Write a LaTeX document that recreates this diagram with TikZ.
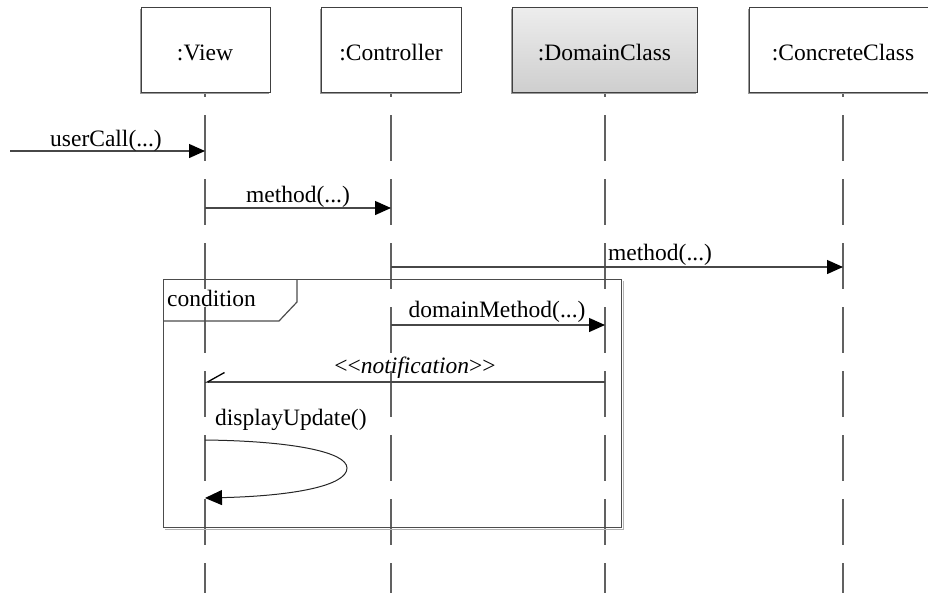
\documentclass[tikz,border=0pt]{standalone}
\usepackage{fontspec}
\setmainfont{Liberation Serif}
\usetikzlibrary{arrows.meta}
\begin{document}
\begin{tikzpicture}[x=1pt,y=-1pt,
  lifeline/.style={draw=black!62, line width=1.2pt, dash pattern=on 46pt off 18pt},
  objbox/.style={draw=black!75, line width=1pt, fill=white, inner sep=0pt,
                 minimum height=85pt},
  boxshadow/.style={fill=black!40},
  msg/.style={draw=black!72, line width=1.3pt,
              -{Triangle[length=16pt,width=14pt,color=black,fill=black]}},
  asyncmsg/.style={draw=black!72, line width=1.3pt,
                   -{Straight Barb[harpoon,swap,length=17pt,width=19pt,color=black]}},
  selfmsg/.style={draw=black!85, line width=1pt,
                  -{Triangle[length=17pt,width=15pt,color=black,fill=black]}},
  lbl/.style={inner sep=0pt, anchor=base, font=\fontsize{23.5}{28}\selectfont},
  fragment/.style={draw=black!70, line width=1.2pt},
]
\useasboundingbox (0,0) rectangle (928,592);

% lifelines (drawn first so the object boxes cover their tops)
\coordinate (viewtop) at (205,51);   \coordinate (viewbot) at (205,600);
\coordinate (ctrltop) at (391,51);   \coordinate (ctrlbot) at (391,600);
\coordinate (domtop)  at (605,51);   \coordinate (dombot)  at (605,600);
\coordinate (conctop) at (843,51);   \coordinate (concbot) at (843,600);
\draw[lifeline] (viewtop) -- (viewbot);
\draw[lifeline] (ctrltop) -- (ctrlbot);
\draw[lifeline] (domtop) -- (dombot);
\draw[lifeline] (conctop) -- (concbot);

% object boxes
\fill[boxshadow] (139.5,8.5) rectangle (268.5,93.5);
\node[objbox, minimum width=129pt] (view) at (205.5,49.5) {};
\fill[boxshadow] (319.5,8.5) rectangle (459.5,93.5);
\node[objbox, minimum width=140pt] (ctrl) at (391,49.5) {};
\fill[boxshadow] (510.5,8.5) rectangle (695.5,93.5);
\node[objbox, minimum width=185pt, top color=black!7, bottom color=black!19] (dom) at (604.5,49.5) {};
\fill[boxshadow] (747.5,8.5) rectangle (940,93.5);
\node[objbox, minimum width=188pt] (conc) at (843,49.5) {};

\node[lbl] (viewname) at (205,60) {:View};
\node[lbl] (ctrlname) at (391,60) {:Controller};
\node[lbl] (domname)  at (604.5,60) {:DomainClass};
\node[lbl] (concname) at (843,60) {:ConcreteClass};

% combined fragment
\draw[black!30, line width=1pt] (165,529) -- (623,529) -- (623,281);
\node[fragment, inner sep=0pt, minimum width=458pt, minimum height=248pt, anchor=north west]
  (frame) at (163,279) {};
\coordinate (tabA) at (297,279);
\coordinate (tabB) at (297,302);
\coordinate (tabC) at (279,321);
\coordinate (tabD) at (163,321);
\draw[fragment] (tabA) -- (tabB) -- (tabC) -- (tabD);
\node[lbl, anchor=base west] (cond) at (167,306) {condition};

% messages
\coordinate (ucA) at (10,151);   \coordinate (ucB) at (205,151);
\draw[msg] (ucA) -- (ucB);
\node[lbl] (uclbl) at (106,146) {userCall(...)};

\coordinate (m1A) at (205,208);  \coordinate (m1B) at (391,208);
\draw[msg] (m1A) -- (m1B);
\node[lbl] (m1lbl) at (298,202) {method(...)};

\coordinate (m2A) at (391,267);  \coordinate (m2B) at (843,267);
\draw[msg] (m2A) -- (m2B);
\node[lbl, anchor=base west] (m2lbl) at (608,260) {method(...)};

\coordinate (dmA) at (391,325);  \coordinate (dmB) at (605,325);
\draw[msg] (dmA) -- (dmB);
\node[lbl] (dmlbl) at (497,317) {domainMethod(...)};

\coordinate (ntA) at (605,382);  \coordinate (ntB) at (205,382);
\draw[asyncmsg] (ntA) -- (ntB);
\node[lbl] (ntlbl) at (415,373) {<{}<\textit{notification}>{}>};

% self call
\coordinate (duA) at (205,440);
\coordinate (duM) at (347,468);
\coordinate (duB) at (205,498);
\draw[selfmsg] (duA) .. controls (292,441) and (347,452) .. (duM)
               .. controls (347,486) and (292,496) .. (duB);
\node[lbl, anchor=base west] (dulbl) at (215,425) {displayUpdate()};
\end{tikzpicture}
\end{document}
